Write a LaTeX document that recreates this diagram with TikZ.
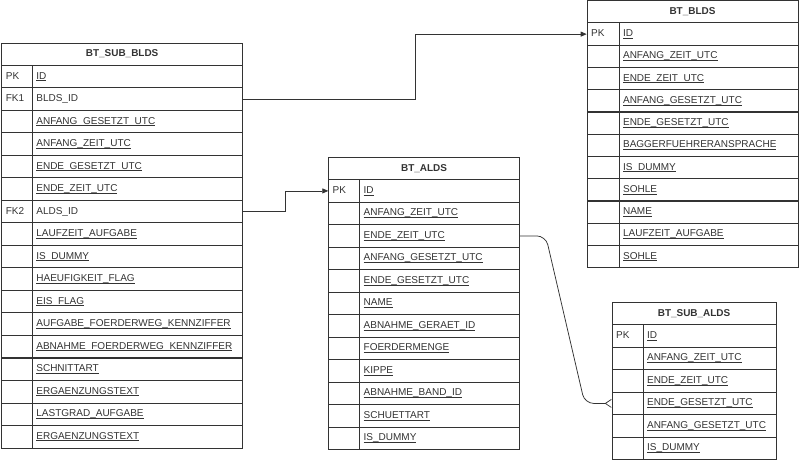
\documentclass[tikz,border=0pt]{standalone}
\usepackage{fontspec}
\setmainfont{Liberation Sans}
\usetikzlibrary{arrows.meta}
\definecolor{erline}{HTML}{333333}
\newcommand{\uf}[1]{$\underline{\smash{\hbox{#1}}}$}

\begin{document}
\begin{tikzpicture}[x=1bp,y=-1bp,font=\fontsize{10bp}{12bp}\selectfont,
    cell/.style={draw=erline,text=erline,line width=0.75bp,rectangle,anchor=north west,
      inner xsep=4bp,inner ysep=0pt,minimum height=22.5bp,align=left,
      text height=7.5bp,text depth=2.5bp},
    head/.style={cell,minimum height=22bp,minimum width=#1,font=\bfseries},
    conn/.style={draw=erline,line width=0.75bp}]
  \useasboundingbox (0,0) rectangle (800,463);
  % BT_SUB_BLDS
  \node[head=240.5bp] (sb) at (1.5,43) {BT\_SUB\_BLDS};
  \foreach \k/\f [count=\i] in {PK/\uf{ID}, FK1/BLDS\_ID, /\uf{ANFANG\_GESETZT\_UTC},
      /\uf{ANFANG\_ZEIT\_UTC}, /\uf{ENDE\_GESETZT\_UTC}, /\uf{ENDE\_ZEIT\_UTC}, FK2/ALDS\_ID,
      /\uf{LAUFZEIT\_AUFGABE}, /\uf{IS\_DUMMY}, /\uf{HAEUFIGKEIT\_FLAG}, /\uf{EIS\_FLAG},
      /\uf{AUFGABE\_FOERDERWEG\_KENNZIFFER}, /\uf{ABNAHME\_FOERDERWEG\_KENNZIFFER},
      /\uf{SCHNITTART}, /\uf{ERGAENZUNGSTEXT}, /\uf{LASTGRAD\_AUFGABE}, /\uf{ERGAENZUNGSTEXT}} {
    \node[cell,text width=22.5bp] (sbk-\i) at (1.5,{65+(\i-1)*22.5}) {\k};
    \node[cell,text width=202bp] (sbf-\i) at (32,{65+(\i-1)*22.5}) {\f};
  }
  % BT_ALDS
  \node[head=190.7bp] (al) at (328.3,157.3) {BT\_ALDS};
  \foreach \k/\f [count=\i] in {PK/\uf{ID}, /\uf{ANFANG\_ZEIT\_UTC}, /\uf{ENDE\_ZEIT\_UTC},
      /\uf{ANFANG\_GESETZT\_UTC}, /\uf{ENDE\_GESETZT\_UTC}, /\uf{NAME}, /\uf{ABNAHME\_GERAET\_ID},
      /\uf{FOERDERMENGE}, /\uf{KIPPE}, /\uf{ABNAHME\_BAND\_ID}, /\uf{SCHUETTART}, /\uf{IS\_DUMMY}} {
    \node[cell,text width=23bp] (alk-\i) at (328.3,{179.3+(\i-1)*22.5}) {\k};
    \node[cell,text width=151.7bp] (alf-\i) at (359.3,{179.3+(\i-1)*22.5}) {\f};
  }
  % BT_BLDS
  \node[head=210.8bp] (bl) at (586.7,0.5) {BT\_BLDS};
  \foreach \k/\f [count=\i] in {PK/\uf{ID}, /\uf{ANFANG\_ZEIT\_UTC}, /\uf{ENDE\_ZEIT\_UTC},
      /\uf{ANFANG\_GESETZT\_UTC}, /\uf{ENDE\_GESETZT\_UTC}, /\uf{BAGGERFUEHRERANSPRACHE},
      /\uf{IS\_DUMMY}, /\uf{SOHLE}, /\uf{NAME}, /\uf{LAUFZEIT\_AUFGABE}, /\uf{SOHLE}} {
    \node[cell,text width=24bp] (blk-\i) at (586.7,{22.5+(\i-1)*22.25}) {\k};
    \node[cell,text width=170.8bp] (blf-\i) at (618.7,{22.5+(\i-1)*22.25}) {\f};
  }
  % BT_SUB_ALDS
  \node[head=164bp] (sa) at (611.7,302.3) {BT\_SUB\_ALDS};
  \foreach \k/\f [count=\i] in {PK/\uf{ID}, /\uf{ANFANG\_ZEIT\_UTC}, /\uf{ENDE\_ZEIT\_UTC},
      /\uf{ENDE\_GESETZT\_UTC}, /\uf{ANFANG\_GESETZT\_UTC}, /\uf{IS\_DUMMY}} {
    \node[cell,text width=23bp] (sak-\i) at (611.7,{324.3+(\i-1)*22.5}) {\k};
    \node[cell,text width=125bp] (saf-\i) at (642.7,{324.3+(\i-1)*22.5}) {\f};
  }
  % relations
  \draw[conn,-{Triangle[length=6bp,width=5bp]}] (sbf-2.east) -- ++(173,0) |- (blk-1.west);
  \draw[conn,-{Triangle[length=6bp,width=5bp]}] (sbf-7.east) -- ++(43,0) |- (alk-1.west);
  \draw[conn,rounded corners=9bp,-{Straight Barb[reversed,length=6bp,width=8bp]}]
    (alf-3.east) -- ++(26,0) -- ([xshift=-27bp]sak-4.west) -- (sak-4.west);
\end{tikzpicture}
\end{document}
